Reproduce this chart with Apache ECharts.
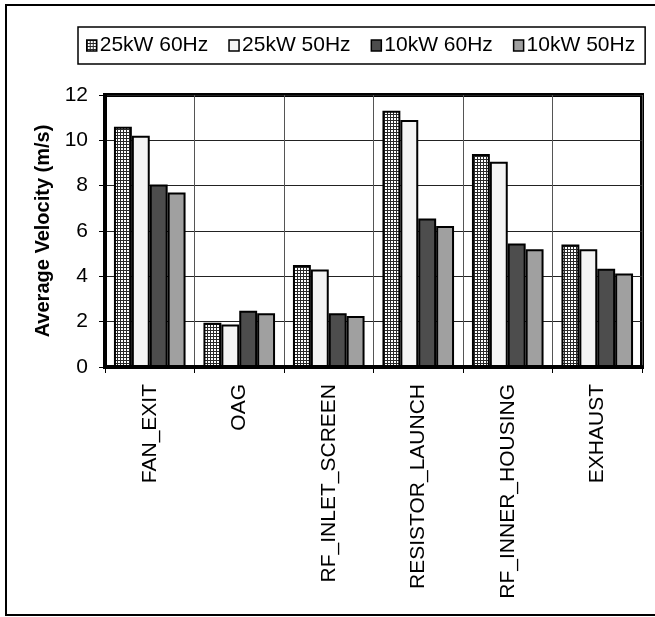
<!DOCTYPE html>
<html>
<head>
<meta charset="utf-8">
<script src="https://cdn.jsdelivr.net/npm/echarts@6/dist/echarts.min.js"></script>
<style>
html,body{margin:0;padding:0;background:#fff;}
#chart{width:655px;height:617px;}
</style>
</head>
<body>
<div id="chart"></div>
<script>
var categories = ["FAN_EXIT", "OAG", "RF_INLET_SCREEN", "RESISTOR_LAUNCH", "RF_INNER_HOUSING", "EXHAUST"];
var s25kW60 = [10.6, 1.95, 4.5, 11.3, 9.4, 5.4];
var s25kW50 = [10.2, 1.87, 4.3, 10.9, 9.05, 5.2];
var s10kW60 = [8.05, 2.48, 2.37, 6.55, 5.45, 4.33];
var s10kW50 = [7.7, 2.37, 2.25, 6.22, 5.2, 4.13];
var seriesNames = ["25kW 60Hz", "25kW 50Hz", "10kW 60Hz", "10kW 50Hz"];
var yTicks = [0, 2, 4, 6, 8, 10, 12];

function gridPattern() {
  var c = document.createElement('canvas');
  c.width = 3; c.height = 3;
  var ctx = c.getContext('2d');
  ctx.fillStyle = '#ffffff';
  ctx.fillRect(0, 0, 3, 3);
  ctx.fillStyle = '#2a2a2a';
  ctx.fillRect(0, 0, 3, 1);
  ctx.fillRect(0, 0, 1, 3);
  return c;
}
var pat = {image: gridPattern(), repeat: 'repeat'};
var fills = [pat, '#f4f4f4', '#4d4d4d', '#a0a0a0'];
var dataSets = [s25kW60, s25kW50, s10kW60, s10kW50];

var FONT = '"Liberation Sans", Arial, sans-serif';
var chart = echarts.init(document.getElementById('chart'), null, {renderer: 'canvas'});
var series = seriesNames.map(function (n, i) {
  return {
    name: n,
    type: 'bar',
    data: dataSets[i],
    barGap: '0%',
    barCategoryGap: '20%',
    itemStyle: {color: fills[i], borderColor: '#000', borderWidth: 2},
    emphasis: {disabled: true}
  };
});

chart.setOption({
  animation: false,
  backgroundColor: '#fff',
  graphic: [{
    type: 'rect', shape: {x: 6, y: 5, width: 660, height: 610},
    style: {fill: 'none', stroke: '#000', lineWidth: 2}, z: -10
  }],
  legend: {
    data: seriesNames,
    icon: 'rect',
    left: 78, top: 27,
    padding: [8, 10, 8, 8],
    itemWidth: 10, itemHeight: 11, itemGap: 20,
    borderColor: '#000', borderWidth: 1.5,
    backgroundColor: '#fff',
    textStyle: {fontFamily: FONT, fontSize: 21, color: '#000', padding: [0, 0, 0, -2]},
    itemStyle: {borderColor: '#000', borderWidth: 1.5}
  },
  grid: {
    left: 105, right: 13, top: 95, bottom: 250,
    show: true, borderColor: '#000', borderWidth: 4, backgroundColor: 'transparent'
  },
  xAxis: {
    type: 'category',
    data: categories,
    axisLine: {lineStyle: {color: '#000', width: 4}},
    axisTick: {show: true, length: 6, lineStyle: {color: '#000', width: 1}},
    splitLine: {show: true, lineStyle: {color: '#555', width: 1}},
    axisLabel: {rotate: 90, margin: 17, fontFamily: FONT, fontSize: 21, color: '#000'}
  },
  yAxis: {
    type: 'value',
    min: 0, max: 12, interval: 2,
    name: 'Average Velocity (m/s)',
    nameLocation: 'middle',
    nameGap: 52,
    nameRotate: 90,
    nameTextStyle: {fontFamily: FONT, fontSize: 20, fontWeight: 'bold', color: '#000'},
    axisLine: {show: true, lineStyle: {color: '#000', width: 4}},
    axisTick: {show: true, length: 6, lineStyle: {color: '#000', width: 1}},
    splitLine: {show: true, lineStyle: {color: '#222', width: 1}},
    axisLabel: {
      margin: 17, fontFamily: FONT, fontSize: 21, color: '#000',
      formatter: function (v) { return yTicks.indexOf(v) >= 0 ? String(v) : ''; }
    }
  },
  series: series
});
</script>
</body>
</html>
